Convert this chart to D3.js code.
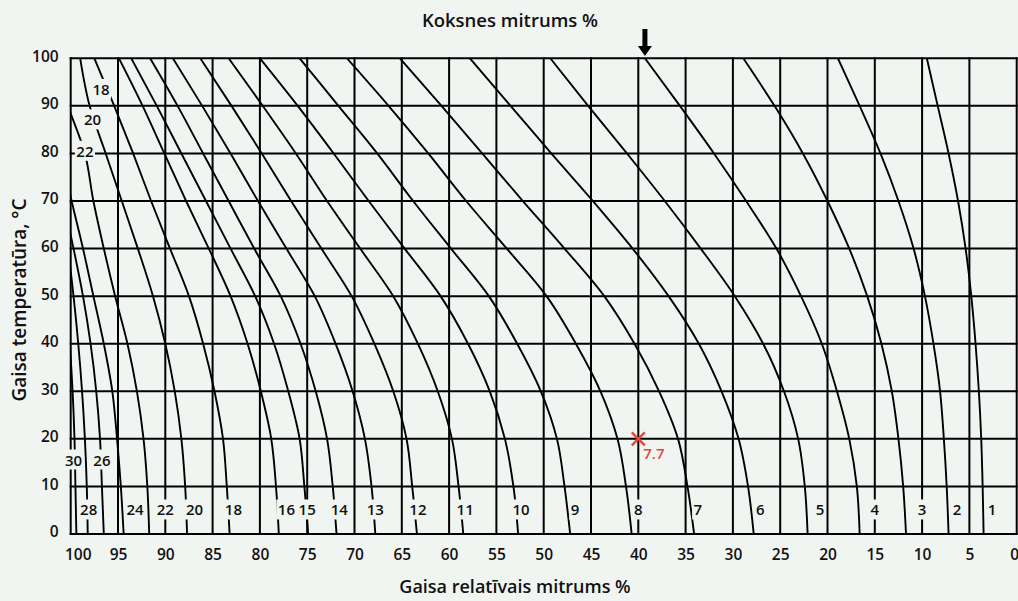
<!DOCTYPE html>
<html>
<head>
<meta charset="utf-8">
<script src="https://cdn.jsdelivr.net/npm/d3@7"></script>
<style>
  body { margin: 0; background: #f1f5f2; }
  svg { display: block; }
  text { font-family: "Open Sans", sans-serif; font-weight: 600; fill: #111; }
</style>
</head>
<body>
<div id="chart"></div>
<script>
// temperatures (C) at which each curve was read
var temps = [0, 10, 20, 30, 40, 50, 60, 70, 80, 90, 100];

// relative humidity (%) of each wood moisture curve, read at the temps above
// (values past 100 mean the curve already left the chart at the left edge)
var emc1 = [3.5, 3.6, 3.75, 4.0, 4.35, 4.8, 5.4, 6.2, 7.2, 8.35, 9.5];
var emc2 = [7.2, 7.4, 7.7, 8.1, 8.8, 9.7, 10.9, 12.5, 14.4, 16.6, 18.9];
var emc3 = [11.7, 12.0, 12.5, 13.2, 14.3, 15.8, 17.7, 20.0, 22.6, 25.6, 28.9];
var emc4 = [16.6, 16.9, 17.7, 19.0, 20.6, 22.8, 25.4, 28.6, 32.0, 35.6, 39.3];
var emc5 = [22.1, 22.4, 23.1, 24.6, 26.8, 29.8, 33.4, 37.2, 41.2, 45.3, 49.3];
var emc6 = [27.8, 28.4, 29.4, 31.2, 33.6, 36.8, 40.6, 44.8, 49.2, 53.5, 57.8];
var emc7 = [34.1, 34.8, 35.8, 37.8, 40.4, 43.6, 47.8, 52.2, 56.5, 60.8, 65.2];
var emc8 = [40.7, 41.3, 42.2, 44.0, 46.6, 49.7, 53.9, 58.2, 62.2, 66.4, 70.8];
var emc9 = [47.2, 47.8, 48.6, 50.3, 52.8, 55.8, 59.8, 63.8, 67.6, 71.7, 75.8];
var emc10 = [52.7, 53.2, 54.1, 55.7, 58.0, 60.9, 64.7, 68.5, 72.2, 76.0, 80.0];
var emc11 = [58.5, 59.0, 59.7, 61.2, 63.3, 65.9, 69.4, 72.9, 76.2, 79.7, 83.3];
var emc12 = [63.4, 63.9, 64.5, 65.9, 67.9, 70.3, 73.5, 76.7, 79.8, 83.0, 86.3];
var emc13 = [67.8, 68.2, 68.9, 70.2, 72.0, 74.2, 77.2, 80.2, 83.1, 86.1, 89.2];
var emc14 = [71.9, 72.3, 72.9, 74.1, 75.7, 77.8, 80.6, 83.3, 86.0, 88.7, 91.6];
var emc15 = [74.9, 75.3, 75.8, 77.0, 78.5, 80.5, 83.1, 85.7, 88.3, 90.9, 93.6];
var emc16 = [78.0, 78.3, 78.8, 79.9, 81.3, 83.1, 85.4, 87.8, 90.1, 92.4, 94.9];
var emc18 = [83.2, 83.5, 83.9, 84.8, 86.0, 87.5, 89.5, 91.5, 93.4, 95.4, 97.5];
var emc20 = [87.7, 87.9, 88.3, 89.0, 90.0, 91.3, 92.9, 94.6, 96.3, 98.0, 99.0];
var emc22 = [91.7, 91.9, 92.3, 93.0, 94.0, 95.3, 96.5, 97.6, 98.5, 100.3, 102];
var emc24 = [94.4, 94.7, 95.1, 95.6, 96.5, 97.6, 98.7, 99.9, 101, 102, 103];
var emc26 = [96.5, 96.7, 96.9, 97.3, 97.9, 98.7, 99.7, 100.8, 102, 103, 104];
var emc28 = [98.2, 98.3, 98.5, 98.8, 99.2, 99.7, 100.3, 101, 102, 103, 104];
var emc30 = [99.4, 99.5, 99.6, 99.8, 100.1, 100.5, 101, 102, 103, 104, 105];

var emcSeries = [emc1, emc2, emc3, emc4, emc5, emc6, emc7, emc8, emc9, emc10, emc11, emc12,
                 emc13, emc14, emc15, emc16, emc18, emc20, emc22, emc24, emc26, emc28, emc30];

// curve numbers and where they sit: humidity %, temperature C
var labelText = ["1", "2", "3", "4", "5", "6", "7", "8", "9", "10", "11", "12", "13", "14",
                 "15", "16", "18", "20", "22", "24", "26", "28", "30", "18", "20", "22"];
var labelRh = [2.6, 6.3, 10, 15, 20.8, 27.1, 33.7, 40, 46.7, 52.4, 58.3, 63.3, 67.8, 71.6,
               75, 77.2, 82.8, 86.9, 90, 93.2, 96.7, 98.1, 99.7, 96.8, 97.7, 98.5];
var labelT = [5, 5, 5, 5, 5, 5, 5, 5, 5, 5, 5, 5, 5, 5,
              5, 5, 5, 5, 5, 5, 15.5, 5, 15.5, 93.4, 87, 80.4];

var rhTicks = d3.range(100, -1, -5);
var tTicks = d3.range(0, 101, 10);

// the marked reading
var markRh = 40, markT = 20, markText = "7.7";

var svgWidth = 1018;
var svgHeight = 601;
var margin = { top: 58.3, right: 1.3, bottom: 67, left: 70.7 };
var width = svgWidth - margin.left - margin.right;
var height = svgHeight - margin.top - margin.bottom;
var bg = "#f1f5f2";

var svg = d3.select("#chart").append("svg")
    .attr("width", svgWidth)
    .attr("height", svgHeight);

var x = d3.scaleLinear().domain([100, 0]).range([margin.left, margin.left + width]);
var y = d3.scaleLinear().domain([0, 100]).range([margin.top + height, margin.top]);

svg.append("clipPath").attr("id", "plot")
  .append("rect")
    .attr("x", x(100)).attr("y", y(100))
    .attr("width", width).attr("height", height);

// grid
var grid = svg.append("g").attr("stroke", "#000").attr("stroke-width", 2);
grid.selectAll(".v").data(rhTicks).enter().append("line")
    .attr("x1", d => x(d)).attr("x2", d => x(d))
    .attr("y1", y(0) + 1).attr("y2", y(100) - 1);
grid.selectAll(".h").data(tTicks).enter().append("line")
    .attr("x1", x(100) - 1).attr("x2", x(0) + 1)
    .attr("y1", d => y(d)).attr("y2", d => y(d));

// curves
var line = d3.line()
    .x(d => x(d[0]))
    .y(d => y(d[1]))
    .curve(d3.curveMonotoneY);

svg.append("g")
    .attr("clip-path", "url(#plot)")
  .selectAll("path")
  .data(emcSeries)
  .enter().append("path")
    .attr("d", s => line(s.map((v, i) => [v, temps[i]])))
    .attr("fill", "none")
    .attr("stroke", "#000")
    .attr("stroke-width", 1.9);

// axes
var xAxis = svg.append("g")
    .attr("transform", `translate(0, ${y(0) + 12})`)
    .call(d3.axisBottom(x).tickValues(rhTicks).tickSize(0).tickFormat(d3.format("d")));
xAxis.select(".domain").remove();
xAxis.selectAll("text").attr("font-size", 15.5).attr("font-family", null).attr("fill", "#111");
xAxis.selectAll(".tick").filter(d => d === 100).select("text").attr("dx", 7);
xAxis.selectAll(".tick").filter(d => d === 0).select("text").attr("text-anchor", "end").attr("dx", 2);

var yAxis = svg.append("g")
    .attr("transform", `translate(${x(100) - 9}, -2)`)
    .call(d3.axisLeft(y).tickValues(tTicks).tickSize(0));
yAxis.select(".domain").remove();
yAxis.selectAll("text").attr("font-size", 15.5).attr("font-family", null).attr("fill", "#111");

// curve numbers on a background patch
var labels = svg.append("g").selectAll("g")
    .data(labelText)
    .enter().append("g")
    .attr("transform", (d, i) => `translate(${x(labelRh[i])}, ${y(labelT[i])})`);
labels.append("text")
    .attr("text-anchor", "middle")
    .attr("dy", "0.35em")
    .attr("font-size", 15)
    .text(d => d);
labels.each(function() {
  var g = d3.select(this);
  var b = g.select("text").node().getBBox();
  g.insert("rect", "text")
    .attr("x", b.x - 1.5).attr("y", b.y)
    .attr("width", b.width + 3).attr("height", b.height)
    .attr("fill", bg);
});

// marked reading
var red = "#e8463c";
var mx = x(markRh), my = y(markT);
svg.append("path")
    .attr("d", `M${mx - 6.5},${my - 6.5}L${mx + 6.5},${my + 6.5}M${mx - 6.5},${my + 6.5}L${mx + 6.5},${my - 6.5}`)
    .attr("stroke", red).attr("stroke-width", 2.4);
svg.append("text")
    .attr("x", mx + 5).attr("y", my + 20)
    .attr("font-size", 15)
    .style("fill", red)
    .text(markText);

// arrow to the top of the 4 % curve
var ax = x(emc4[emc4.length - 1]);
svg.append("path")
    .attr("d", `M${ax - 2.5},29H${ax + 2.5}V46H${ax + 7}L${ax},56L${ax - 7},46H${ax - 2.5}Z`)
    .attr("fill", "#000");

// titles
svg.append("text")
    .attr("x", 510).attr("y", 27)
    .attr("text-anchor", "middle")
    .attr("font-size", 18.5)
    .text("Koksnes mitrums %");

svg.append("text")
    .attr("x", 515).attr("y", 593)
    .attr("text-anchor", "middle")
    .attr("font-size", 18)
    .text("Gaisa relatīvais mitrums %");

svg.append("text")
    .attr("transform", "translate(26, 300) rotate(-90)")
    .attr("text-anchor", "middle")
    .attr("font-size", 19)
    .text("Gaisa temperatūra, °C");
</script>
</body>
</html>
